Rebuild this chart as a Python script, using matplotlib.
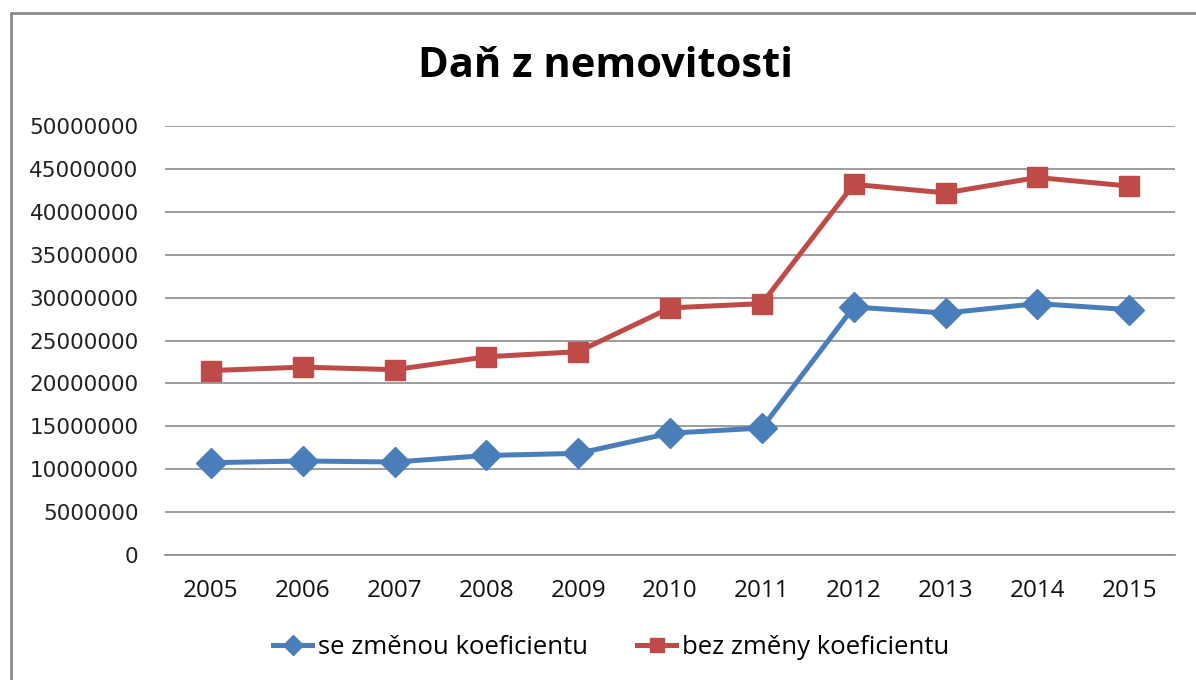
import matplotlib
matplotlib.use("Agg")
import matplotlib.pyplot as plt
from matplotlib.patches import Rectangle

years = ["2005", "2006", "2007", "2008", "2009", "2010",
         "2011", "2012", "2013", "2014", "2015"]
se_zmenou = [10760000, 10960000, 10840000, 11600000, 11850000, 14200000,
             14800000, 28900000, 28200000, 29300000, 28600000]
bez_zmeny = [21500000, 21900000, 21600000, 23100000, 23700000, 28800000,
             29300000, 43200000, 42200000, 44000000, 43000000]
yticks = list(range(0, 50000001, 5000000))

narrow = ["Liberation Sans Narrow", "Open Sans", "DejaVu Sans"]

fig = plt.figure(figsize=(11.96, 6.8), dpi=100)
ax = fig.add_axes([0.138, 0.1838, 0.8445, 0.6309])

xs = range(len(years))
ax.plot(xs, se_zmenou, color="#4A7EBB", lw=3.6, marker="D", ms=15,
        label="se změnou koeficientu", zorder=3)
ax.plot(xs, bez_zmeny, color="#BE4B48", lw=3.6, marker="s", ms=15,
        label="bez změny koeficientu", zorder=3)

ax.set_xlim(-0.5, len(years) - 0.5)
ax.set_ylim(0, 50000000)
ax.set_yticks(yticks)
ax.set_yticklabels([str(v) for v in yticks], fontsize=15.5, color="#222222")
ax.set_xticks(list(xs))
ax.set_xticklabels(years, fontsize=17.5, family=narrow, color="#111111")
ax.tick_params(axis="y", length=0, pad=19)
ax.tick_params(axis="x", length=0, pad=17)
ax.grid(axis="y", color="#8C8C8C", lw=1.2)
ax.set_axisbelow(True)
for side in ("top", "right", "left"):
    ax.spines[side].set_visible(False)
ax.spines["bottom"].set_color("#8C8C8C")
ax.spines["bottom"].set_linewidth(1.2)

fig.text(0.506, 0.902, "Daň z nemovitosti", ha="center", va="center",
         fontsize=30, fontweight="bold", family=narrow)

# legend sits a bit left of the plot centre, as in the original
ax.legend(loc="center", bbox_to_anchor=(0.442, -0.215), ncol=2, frameon=False,
          prop={"family": narrow, "size": 18.5}, handlelength=1.5,
          handletextpad=0.25, columnspacing=1.9, markerscale=0.7)

fig.patches.append(Rectangle((11 / 1196, -0.1), 1.2, 1 - 13 / 680 + 0.1,
                             transform=fig.transFigure, fill=False,
                             edgecolor="#8A8A8A", lw=2))

fig.savefig("out.png", dpi=100)
